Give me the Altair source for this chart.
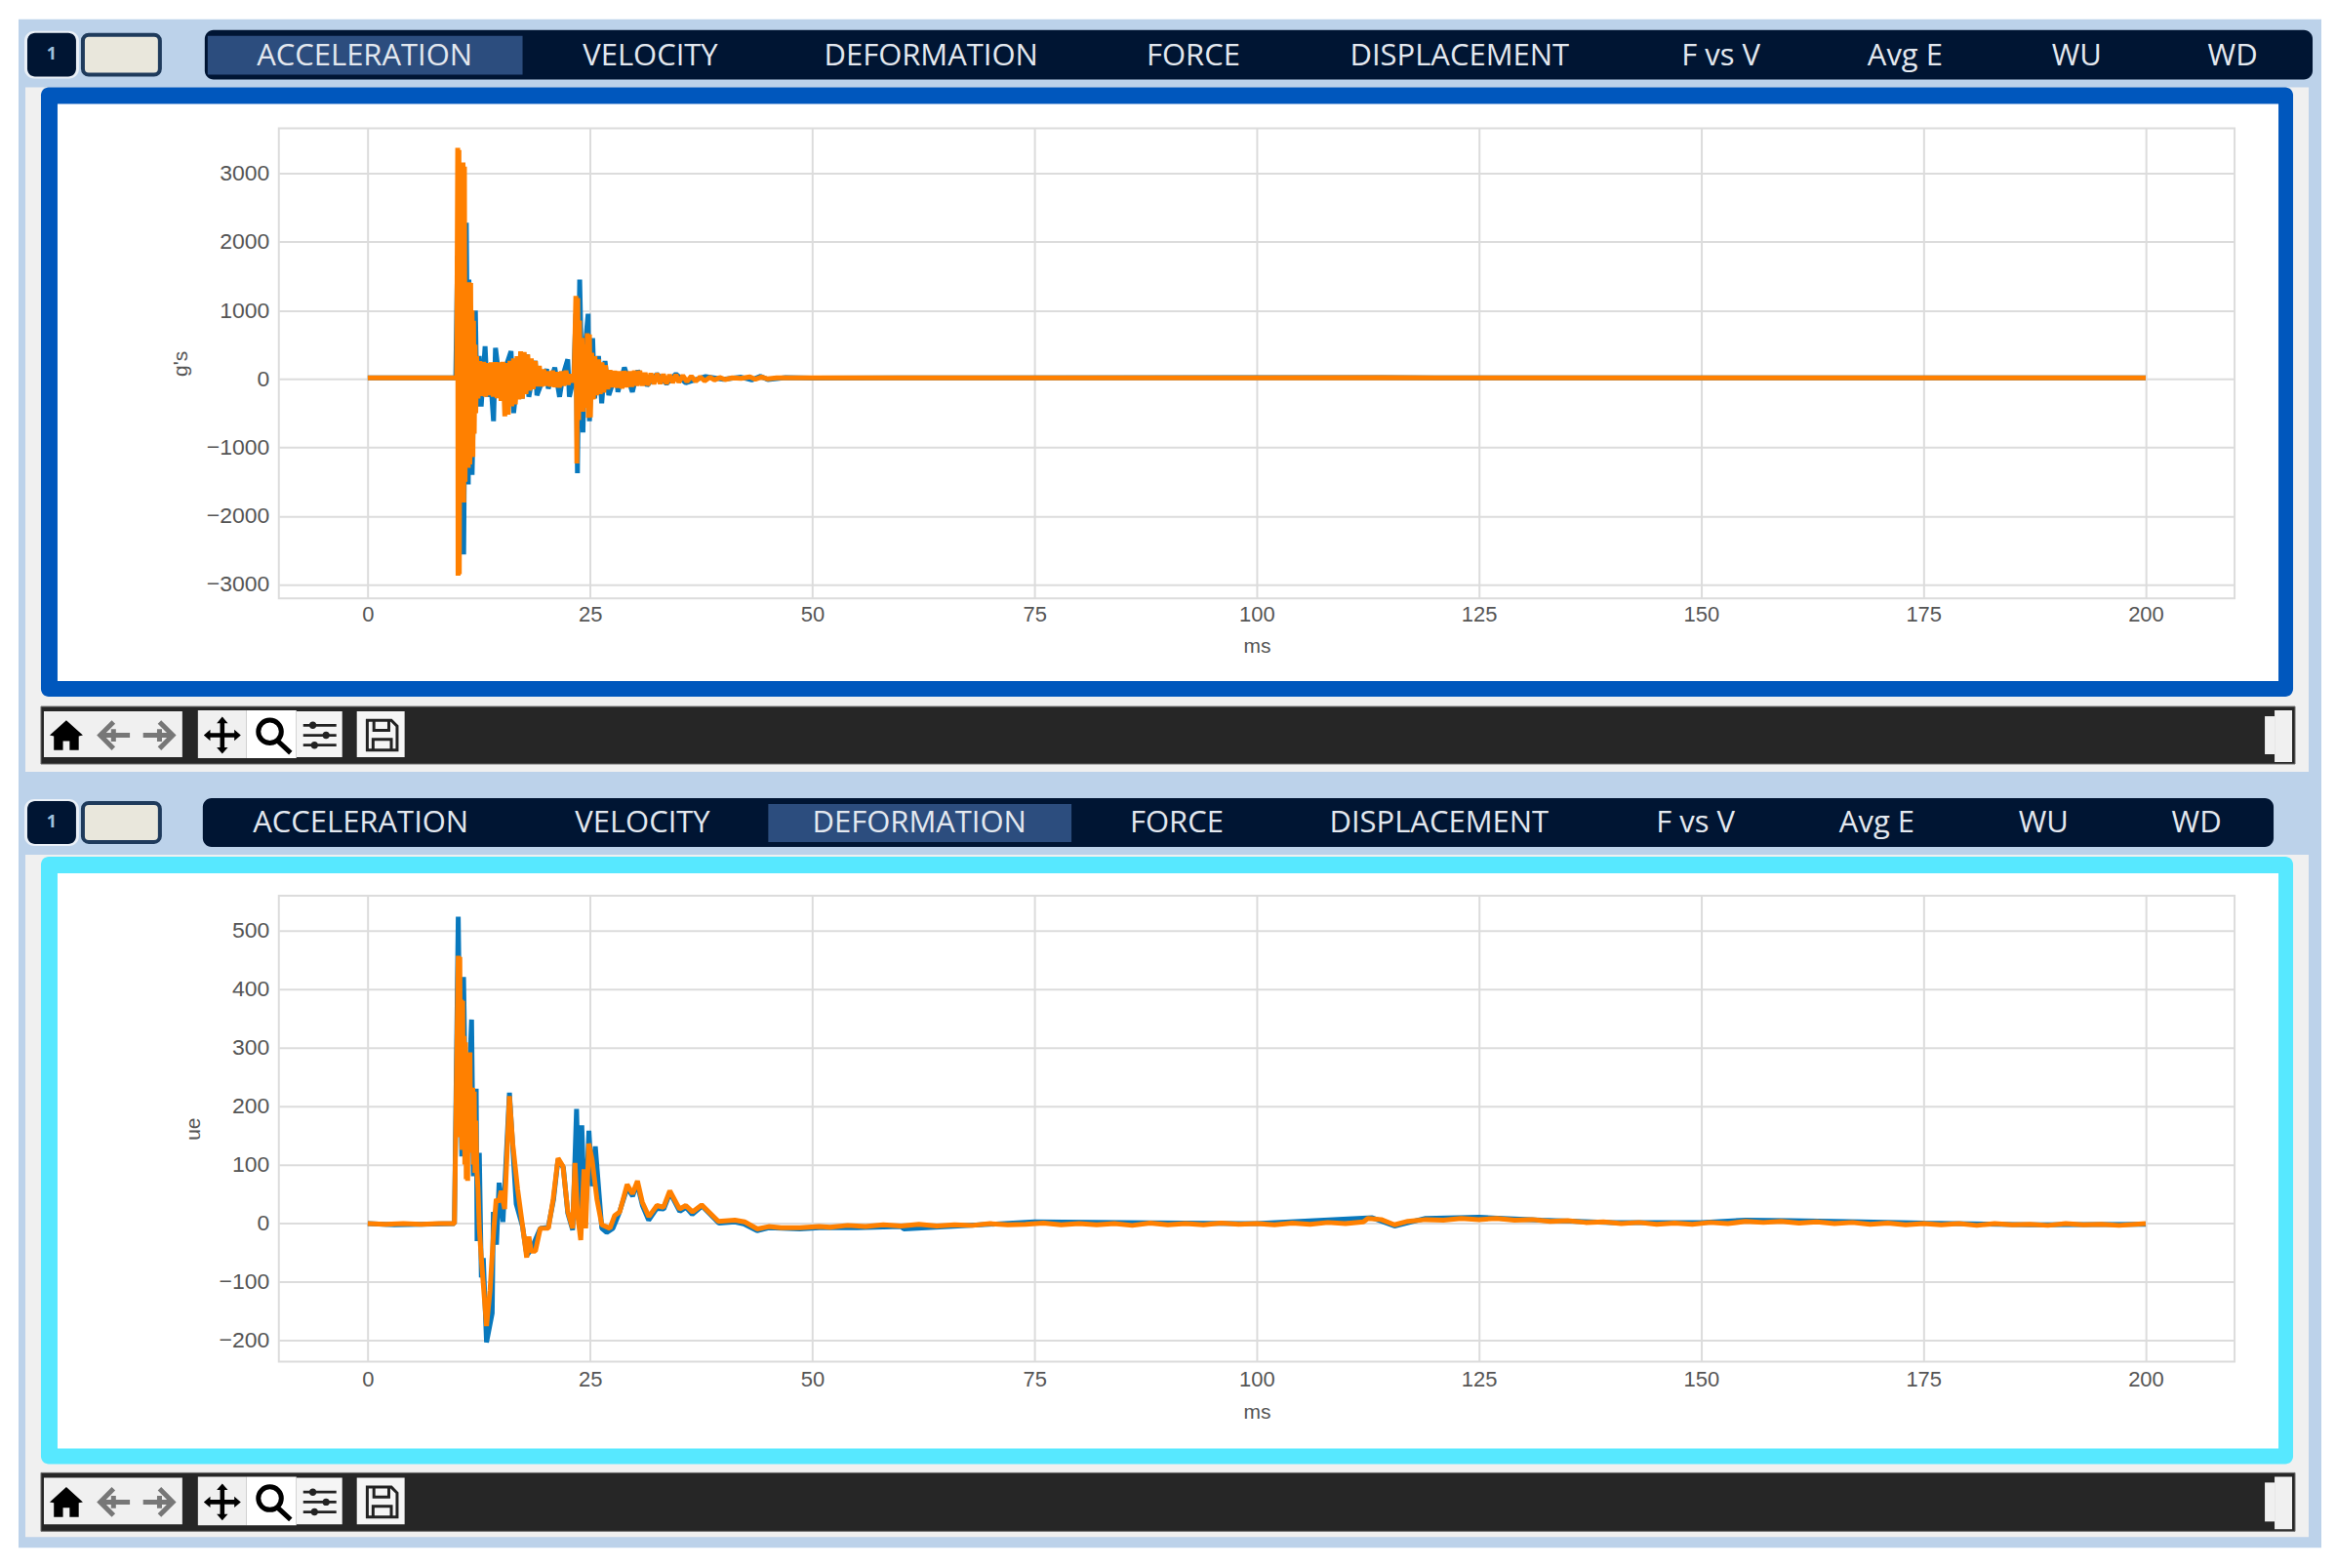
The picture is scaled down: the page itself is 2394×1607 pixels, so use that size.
import altair as alt
import pandas as pd

# ---------- tab labels ----------
TABS = ["ACCELERATION", "VELOCITY", "DEFORMATION", "FORCE", "DISPLACEMENT", "F vs V", "Avg E", "WU", "WD"]
TAB_X_TOP = [373, 666, 954, 1223, 1496, 1764, 1953, 2129, 2289]
TAB_X_BOTTOM = [369, 658, 942, 1206, 1475, 1738, 1924, 2095, 2252]

X_TICKS = [0, 25, 50, 75, 100, 125, 150, 175, 200]
ACC_TICKS = [-3000, -2000, -1000, 0, 1000, 2000, 3000]
DEF_TICKS = [-200, -100, 0, 100, 200, 300, 400, 500]

# ---------- acceleration, blue ----------
ACC_BLUE_T = [0, 5, 9.9, 10.1, 10.4, 10.6, 10.79, 11.09, 11.31, 11.38, 11.74, 12.11, 12.29, 12.54, 12.76, 13.2, 13.46,
              13.75, 14.15, 14.37, 15.02, 15.57, 16.12, 16.41, 16.92, 17.37, 17.94, 18.12, 18.85, 19.03, 20.13, 20.31,
              21.04, 21.58, 21.95, 22.5, 22.68, 23.17, 23.41, 23.59, 23.84, 24.21, 24.39, 24.79, 24.94, 25.3, 25.52,
              25.96, 26.32, 26.69, 27.12, 27.96, 28.14, 28.87, 29.77, 30.37, 31.42, 32.52, 33.61, 34.67, 35.77, 38,
              40, 42, 43.2, 44.2, 45, 47, 50, 60, 114, 120, 200]
ACC_BLUE_V = [15, 15, 15, 1800, -1700, 1500, -2563, 2280, -1542, 1449, -1400, 998, -403, 333, -403, 475, -262,
              143, -617, 452, -238, 190, 404, -498, 143, -284, 357, -262, 262, -238, 143, -142,
              167, -262, 48, 285, -262, 15, 950, -1376, 1449, -783, 380, 950, -617, 594, -285,
              333, -356, 262, -238, 95, -190, 167, -190, 119, -95, 71, -71, 71, -57, 35,
              -5, 25, -15, 38, -10, 20, 12, 15, 20, 15, 15]

# ---------- acceleration, orange ----------
ACC_ORANGE_T = [0, 5, 9.8, 10.0,
                10.12, 10.16, 10.26, 10.3, 10.4, 10.48, 10.55, 10.63, 10.72, 10.8, 10.88, 10.95,
                11.04, 11.13, 11.22, 11.31, 11.4, 11.49, 11.58, 11.67, 11.74, 11.83, 11.9, 11.98,
                12.08, 12.15, 12.25, 12.4, 12.6, 12.82, 13.05, 13.25, 13.48, 13.7, 13.9, 14.12,
                14.33, 14.55, 14.77, 15.0, 15.2, 15.42, 15.6, 15.8, 16.0, 16.2, 16.4, 16.6,
                16.8, 17.0, 17.2, 17.4, 17.6, 17.8, 18.0, 18.2, 18.4, 18.6, 18.85, 19.05,
                19.3, 19.55, 19.8, 20.05, 20.3, 20.55, 20.8, 21.05, 21.3, 21.55, 21.8, 22.05,
                22.3, 22.55, 22.8, 23.05, 23.22, 23.41, 23.52, 23.62, 23.72, 23.82, 23.95, 24.1,
                24.2, 24.35, 24.5, 24.7, 24.82, 24.94, 25.05, 25.2, 25.38, 25.55, 25.75, 25.96,
                26.15, 26.35, 26.55, 26.75, 27.0, 27.25, 27.5, 27.78, 28.05, 28.33, 28.6, 28.85,
                29.15, 29.45, 29.7, 30.0, 30.3, 30.6, 30.9, 31.2, 31.5, 31.85, 32.2, 32.55,
                32.9, 33.25, 33.6, 33.95, 34.3, 34.67, 35.0, 35.44, 35.9, 36.4, 36.9, 37.4,
                37.9, 38.5, 39, 39.6, 40.2, 41, 42, 43, 43.6, 44.3, 45, 46,
                48, 60, 114, 120, 200]
ACC_ORANGE_V = [15, 15, 15, 15,
                3372, -2872, 3340, -2850, 2400, -1800, 3158, -1800, 3158, -1804, 3100, -1500,
                1400, -1300, 1410, -1300, 1410, -1250, 1400, -1140, 1000, -1140, 850, -800,
                500, -500, 333, -285, 260, -250, 250, -260, 230, -240, 240, -260,
                245, -280, 240, -320, 250, -545, 230, -520, 265, -400, 300, -370,
                330, -300, 404, -290, 390, -220, 357, -170, 300, -150, 261, -110,
                190, -110, 140, -100, 110, -110, 120, -120, 100, -125, 110, -100,
                120, -85, 70, -50, 48, 1211, -1234, 1180, -600, 850, -474, 600,
                -480, 500, -420, 665, -569, 650, -560, 380, -300, 330, -240, 285,
                -220, 240, -200, 200, -150, 130, -120, 119, -130, 110, -140, 115,
                -120, 110, -115, 120, -100, 119, -100, 90, -95, 80, -75, 81,
                -70, 70, -71, 60, -55, 62, -50, 50, -40, 40, -35, 30,
                -30, 25, -15, 20, -10, 15, 8, 30, -5, 28, 0, 15,
                15, 15, 18, 15, 15]

# ---------- deformation, blue ----------
DEF_BLUE_T = [0, 3, 6, 9.75, 10.18, 10.4, 10.58, 10.78, 11.05, 11.3, 11.68, 11.88, 12.2, 12.3, 12.55, 12.78, 13.0, 13.36,
              14.0, 14.13, 14.48, 14.78, 15.21, 15.94, 16.7, 17.4, 17.9, 18.4, 19.4, 20.3, 20.9, 21.4, 22, 22.5, 23.05,
              23.49, 23.8, 24.08, 24.44, 24.88, 25.24, 25.6, 26.33, 26.88, 27.58, 28.3, 29.18, 29.8, 30.3, 30.9, 31.6,
              32.5, 33.3, 34, 35.1, 35.8, 36.5, 37.6, 39.5, 41.3, 42.4, 43.8, 45.1, 48.6, 50.8, 55, 60, 60.3, 75, 100,
              113, 115.5, 119, 125, 132, 140, 150, 155, 160, 168, 175, 187, 200]
DEF_BLUE_V = [-1, -3, -2, -1, 524, 270, 114, 421, 150, 200, 348, 80, 230, -31, 120, -93, -60, -204,
              -154, 19, -37, 69, 2, 223, 33, -5, -55, -45, -9, -7, 40, 108, 95, 17, -12,
              195, 10, 167, -9, 158, 63, 131, -9, -16, -9, 18, 60, 46, 68, 30, 5,
              25, 24, 52, 20, 27, 15, 29, 0, 2, -2, -13, -8, -10, -8, -8, -6, -10, 2, -1,
              9, -5, 8, 10, 5, 1, 1, 5, 4, 2, 0, -3, -2]

# ---------- deformation, orange ----------
DEF_ORANGE_T = [0, 2, 4, 6, 8, 9.75,
                10.18, 10.26, 10.36, 10.44, 10.52, 10.6, 10.68, 10.76, 10.84, 10.92, 11.0, 11.08,
                11.16, 11.24, 11.32, 11.4, 11.5, 11.58, 11.66, 11.74, 11.82, 11.9, 11.98, 12.06,
                12.15, 12.28, 12.4, 12.55,
                12.77, 13.36, 13.76, 14.16, 14.45, 14.74, 15.0, 15.4, 15.94, 16.31, 16.86, 17.4, 17.88, 18.13, 18.38,
                18.86, 19.41, 20.32, 20.86, 21.41, 21.96, 22.51, 23.05, 23.31, 23.6, 23.96, 24.33, 24.51, 24.87, 25.24,
                25.78, 26.33, 27.24, 27.78, 28.34, 29.18, 29.78, 30.34, 30.88, 31.62, 32.53, 33.26, 33.98, 35.08, 35.78,
                36.54, 37.56, 39.45, 41.3, 42.4, 43.83, 45.1, 46.5, 48.6, 50.8,
                52, 54, 56, 58, 60, 62, 64, 66, 68, 70, 72, 74, 76, 78, 80, 82, 84, 86, 88, 90, 92, 94, 96, 98, 100,
                102, 104, 106, 108, 110, 112, 112.5, 114, 115.5, 117, 119, 121, 123, 125, 127, 129, 131, 133, 135,
                137, 139, 141, 143, 145, 147, 149, 151, 153, 155, 157, 159, 161, 163, 165, 167, 169, 171, 173, 175,
                177, 179, 181, 183, 185, 187, 189, 191, 193, 195, 197, 200]
DEF_ORANGE_V = [-1, -2, -1, -2, -1, -1,
                457, 150, 455, 147, 382, 125, 380, 125, 320, 100, 309, 75,
                290, 72, 292, 125, 292, 120, 232, 125, 231, 100, 225, 86,
                175, 90, 60, -9,
                -59, -176, -115, -15, 41, 36, 55, 24, 217, 136, 58, -3, -59, -23, -48,
                -48, -9, -9, 41, 111, 97, 19, -9, 103, 15, -29, 92, -9, 136, 108,
                41, -3, -9, 13, 19, 66, 50, 72, 36, 11, 30, 27, 55, 24, 30,
                19, 31, 3, 5, 2, -10, -6, -8, -8, -6,
                -7, -4, -6, -3, -5, -2, -5, -3, -4, -1, -3, -2, 0, -3, -1, -3, -1, -4, 0, -3, -1, -3, 0, -2, -1,
                -3, 0, -2, 1, -1, 2, 8, 6, -3, 3, 6, 5, 8, 6, 8, 5, 6, 3, 4,
                1, 2, -1, 1, -2, 0, -2, 1, -1, 3, 1, 3, 0, 2, -1, 1, -2, 0, -3, -1,
                -3, -1, -4, -1, -3, -2, -4, -1, -3, -2, -4, -1]

BLUE = "#0878bd"
ORANGE = "#ff8000"
GRID = "#dcdcdc"
TEXT = "#555555"
FONT = "Liberation Sans"
X0, Y0 = 285, 8
ONE = alt.Data(values=[{}])

HOME = "M-1 0 L0 -0.9 L1 0 L0.75 0.05 L0.75 0.9 L0.2 0.9 L0.2 0.35 L-0.2 0.35 L-0.2 0.9 L-0.75 0.9 L-0.75 0.05 Z"
BACK = "M-0.1 -0.85 L-0.95 0 L-0.1 0.85 M-0.95 0 L0.95 0 M-0.1 -0.4 L-0.1 0.4"
FORWARD = "M0.1 -0.85 L0.95 0 L0.1 0.85 M-0.95 0 L0.95 0 M0.1 -0.4 L0.1 0.4"
PAN = ("M0 -1 L0.3 -0.65 L0.12 -0.65 L0.12 -0.12 L0.65 -0.12 L0.65 -0.3 L1 0 L0.65 0.3 L0.65 0.12 L0.12 0.12 "
       "L0.12 0.65 L0.3 0.65 L0 1 L-0.3 0.65 L-0.12 0.65 L-0.12 0.12 L-0.65 0.12 L-0.65 0.3 L-1 0 L-0.65 -0.3 "
       "L-0.65 -0.12 L-0.12 -0.12 L-0.12 -0.65 L-0.3 -0.65 Z")
LENS = "M0.45 -0.2 A0.62 0.62 0 1 1 -0.79 -0.2 A0.62 0.62 0 1 1 0.45 -0.2 Z M0.25 0.3 L0.95 0.95"
SLIDERS = ("M-1 -0.68 L1 -0.68 L1 -0.52 L-1 -0.52 Z M-1 -0.08 L1 -0.08 L1 0.08 L-1 0.08 Z M-1 0.52 L1 0.52 L1 0.68 L-1 0.68 Z "
           "M-0.2 -0.6 A0.22 0.22 0 1 1 -0.64 -0.6 A0.22 0.22 0 1 1 -0.2 -0.6 Z "
           "M0.6 0 A0.22 0.22 0 1 1 0.16 0 A0.22 0.22 0 1 1 0.6 0 Z "
           "M-0.1 0.6 A0.22 0.22 0 1 1 -0.54 0.6 A0.22 0.22 0 1 1 -0.1 0.6 Z")
SAVE = ("M-0.9 -0.9 L0.55 -0.9 L0.9 -0.55 L0.9 0.9 L-0.9 0.9 Z M-0.5 -0.9 L-0.5 -0.3 L0.4 -0.3 L0.4 -0.9 "
        "M-0.55 0.9 L-0.55 0.25 L0.55 0.25 L0.55 0.9")


def box(x1, y1, x2, y2, fill, radius=0, stroke=None, sw=0):
    kw = dict(fill=fill, cornerRadius=radius)
    if stroke:
        kw.update(stroke=stroke, strokeWidth=sw)
    return alt.Chart(ONE).mark_rect(**kw).encode(
        x=alt.value(x1 - X0), x2=alt.value(x2 - X0), y=alt.value(y1 - Y0), y2=alt.value(y2 - Y0))


def label(text, x, y, size, color, font="Open Sans", weight="normal"):
    return alt.Chart(ONE).mark_text(text=text, font=font, fontSize=size, color=color, fontWeight=weight,
                                    align="center", baseline="middle").encode(
        x=alt.value(x - X0), y=alt.value(y - Y0))


def icon(path, x, y, radius, color, filled=True, sw=0):
    kw = dict(shape=path, size=(2 * radius) ** 2, opacity=1, filled=filled)
    if filled:
        kw.update(fill=color, strokeWidth=0)
    else:
        kw.update(stroke=color, strokeWidth=sw)
    return alt.Chart(ONE).mark_point(**kw).encode(x=alt.value(x - X0), y=alt.value(y - Y0))


def panel_chrome(tab_y1, tab_y2, labels_x, bar_x1, bar_x2, active, frame_y1, frame_y2, frame_color, gray_y1, gray_y2,
                 tool_y1, tool_y2):
    out = [
        box(25, gray_y1, 2367, gray_y2, "#f0f0f0"),
        box(bar_x1, tab_y1, bar_x2, tab_y2, "#001533", radius=9),
        box(active[0], tab_y1 + 6, active[1], tab_y2 - 5, "#2c4d7e"),
        box(24, tab_y1 + 1, 80, tab_y2 - 1, "#eaf0f7", radius=10),
        box(27, tab_y1 + 3, 77, tab_y2 - 3, "#001533", radius=8),
        box(84, tab_y1 + 5, 163, tab_y2 - 5, "#e9e7dc", radius=6, stroke="#1f3b5c", sw=4),
        label("1", 52, (tab_y1 + tab_y2) / 2, 18, "#9fc0dc", weight="bold"),
        box(41, frame_y1, 2351, frame_y2, frame_color, radius=8),
        box(58, frame_y1 + 17, 2336, frame_y2 - 16, "#ffffff"),
        box(41, tool_y1, 2353, tool_y2, "#262626", stroke="#707070", sw=1),
    ]
    for name, x in zip(TABS, labels_x):
        out.append(label(name, x, (tab_y1 + tab_y2) / 2 + 1.5, 31, "#e3e8ef"))
    # toolbar
    cy = (tool_y1 + tool_y2) / 2
    t, b = tool_y1 + 5, tool_y2 - 7
    out += [
        box(44, t, 186, b, "#f0f0f0"),
        box(202, t - 1, 252, b + 1, "#f0f0f0"),
        box(252, t - 1, 303, b + 1, "#ffffff"),
        box(303, t, 350, b, "#f5f5f5"),
        box(365, t, 414, b, "#f5f5f5"),
        box(2332, tool_y1 + 4, 2350, tool_y2 - 2, "#f0f0f0"),
        box(2322, tool_y1 + 10, 2332, tool_y2 - 10, "#f0f0f0"),
        icon(HOME, 67, cy, 17, "#000000"),
        icon(BACK, 117, cy, 16, "#777777", filled=False, sw=5),
        icon(FORWARD, 161, cy, 16, "#777777", filled=False, sw=5),
        icon(PAN, 227, cy, 19, "#000000"),
        icon(LENS, 279, cy, 19, "#000000", filled=False, sw=5),
        icon(SLIDERS, 327, cy, 17, "#222222"),
        icon(SAVE, 391, cy, 17, "#222222", filled=False, sw=3),
    ]
    return out


layers = [
    box(8, 8, 2386, 1598, "#ffffff"),
    box(18, 18, 2380, 1586, "#bcd2ea"),
]
layers += panel_chrome(29, 80, TAB_X_TOP, 209, 2371, (212, 535), 88, 713, "#0057bd", 88, 790, 723, 782)
layers += panel_chrome(817, 867, TAB_X_BOTTOM, 207, 2331, (787, 1098), 877, 1500, "#57e8ff", 875, 1575, 1509, 1569)

chrome = alt.layer(*layers).properties(width=2006, height=121, view=alt.ViewBackground(stroke="transparent"))


def plot(blue_t, blue_v, orange_t, orange_v, y_domain, y_ticks, y_title, title_x, height, x_pad, x_title_y):
    x = alt.X("t:Q", scale=alt.Scale(domain=[-10, 210], nice=False, zero=False),
              axis=alt.Axis(values=X_TICKS, grid=True, gridColor=GRID, gridWidth=2, ticks=False, domain=False,
                            labelFont=FONT, labelFontSize=22, labelColor=TEXT, labelPadding=x_pad, labelFlush=False,
                            format="d", title="ms", titleFont=FONT, titleFontSize=21, titleFontWeight="normal",
                            titleColor=TEXT, titleY=x_title_y))
    y = alt.Y("v:Q", scale=alt.Scale(domain=y_domain, nice=False, zero=False),
              axis=alt.Axis(values=y_ticks, grid=True, gridColor=GRID, gridWidth=2, ticks=False, domain=False,
                            labelFont=FONT, labelFontSize=23, labelColor=TEXT, labelPadding=10, format="d",
                            title=y_title, titleFont=FONT, titleFontSize=21, titleFontWeight="normal",
                            titleColor=TEXT, titleX=title_x))
    blue = alt.Chart(pd.DataFrame({"t": blue_t, "v": blue_v})).mark_line(
        color=BLUE, strokeWidth=5, strokeJoin="bevel", clip=True).encode(x=x, y=y)
    orange = alt.Chart(pd.DataFrame({"t": orange_t, "v": orange_v})).mark_line(
        color=ORANGE, strokeWidth=5, strokeJoin="bevel", clip=True).encode(x=x, y=y)
    return alt.layer(blue, orange).properties(
        width=2006, height=height, view=alt.ViewBackground(stroke="#dcdcdc", strokeWidth=2))


top = plot(ACC_BLUE_T, ACC_BLUE_V, ACC_ORANGE_T, ACC_ORANGE_V, [-3202, 3657], ACC_TICKS, "g's", -90, 482, 6, 38)
bottom = plot(DEF_BLUE_T, DEF_BLUE_V, DEF_ORANGE_T, DEF_ORANGE_V, [-237, 560], DEF_TICKS, "ue", -77, 478, 8, 41)

plots = alt.vconcat(top, bottom, spacing=305, bounds="flush")
chart = alt.vconcat(chrome, plots, spacing=1, bounds="flush").properties(padding=0, background="white")

chart.save("out.html", embed_options={"renderer": "svg", "actions": False})
